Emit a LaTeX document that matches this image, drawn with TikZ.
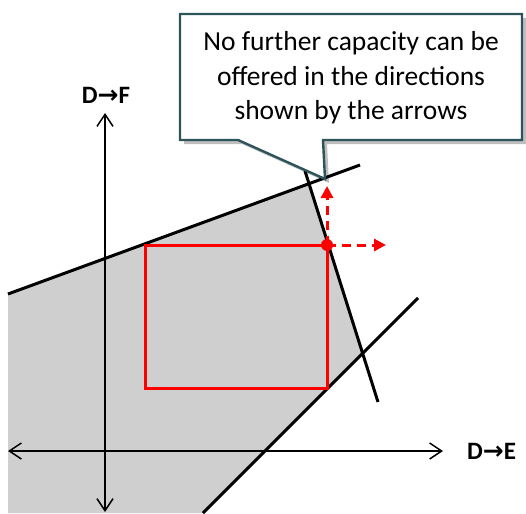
\documentclass[tikz,border=0pt]{standalone}
\usepackage{fontspec}
\setmainfont{Carlito}
\newfontfamily\arrowfont{DejaVu Sans}
\usetikzlibrary{arrows.meta}
\definecolor{regiongray}{RGB}{207,207,207}
\definecolor{callout}{RGB}{44,84,90}
\definecolor{redline}{RGB}{255,0,0}
\tikzset{
  axisline/.style={line width=1.5pt,{Straight Barb[length=12pt,width=16pt,line width=1.5pt]}-{Straight Barb[length=12pt,width=16pt,line width=1.5pt]}},
  bound/.style={line width=3pt,black},
  redbox/.style={line width=3pt,redline},
  redarrow/.style={line width=3pt,redline,dash pattern=on 9pt off 6pt,-{Triangle[length=12pt,width=12pt]}},
  axislabel/.style={font=\fontsize{25}{30}\selectfont\bfseries,inner sep=0pt},
  calloutshape/.style={draw=callout,line width=2.4pt,fill=white,line join=miter},
  callouttext/.style={align=center,font=\fontsize{27.5}{34.5}\selectfont,inner sep=0pt}
}
\begin{document}
\begin{tikzpicture}[x=1pt,y=-1pt]
\useasboundingbox (0,0) rectangle (526,513);
% key points
\coordinate (ul) at (8,294);
\coordinate (ur) at (360,165);
\coordinate (st) at (305,171);
\coordinate (sb) at (378,402);
\coordinate (dt) at (418,298);
\coordinate (db) at (203,513);
\coordinate (c1) at (309,183.5);
\coordinate (c2) at (362.7,353.3);
% feasible region
\fill[regiongray] (ul) -- (c1) -- (c2) -- (db) -- (8,513) -- cycle;
% axes
\coordinate (xl) at (8,451);
\coordinate (xr) at (443,451);
\coordinate (yt) at (105,113);
\coordinate (yb) at (105,512);
\draw[axisline] (xl) -- (xr);
\draw[axisline] (yb) -- (yt);
\node[axislabel] (lf) at (106,95) {D{\arrowfont →}F};
\node[axislabel,anchor=west] (le) at (467,451) {D{\arrowfont →}E};
% boundary lines
\draw[bound] (ul) -- (ur);
\draw[bound] (st) -- (sb);
\draw[bound] (dt) -- (db);
% red rectangle
\draw[redbox] (145,245) rectangle (327,388);
\coordinate (pt) at (327,245);
\coordinate (upend) at (327,186);
\coordinate (rtend) at (386,245);
\draw[redarrow] (pt) -- (upend);
\draw[redarrow] (pt) -- (rtend);
\fill[redline] (pt) circle (6pt);
% callout
\fill[black,opacity=0.25] (184,18) -- (526,18) -- (526,144) -- (327,144) -- (329,183) -- (242,144) -- (184,144) -- cycle;
\draw[calloutshape] (180,14) -- (522,14) -- (522,140) -- (323,140) -- (325,179) -- (238,140) -- (180,140) -- cycle;
\node[callouttext] (note) at (351,78) {No further capacity can be\\offered in the directions\\shown by the arrows};
\end{tikzpicture}
\end{document}
